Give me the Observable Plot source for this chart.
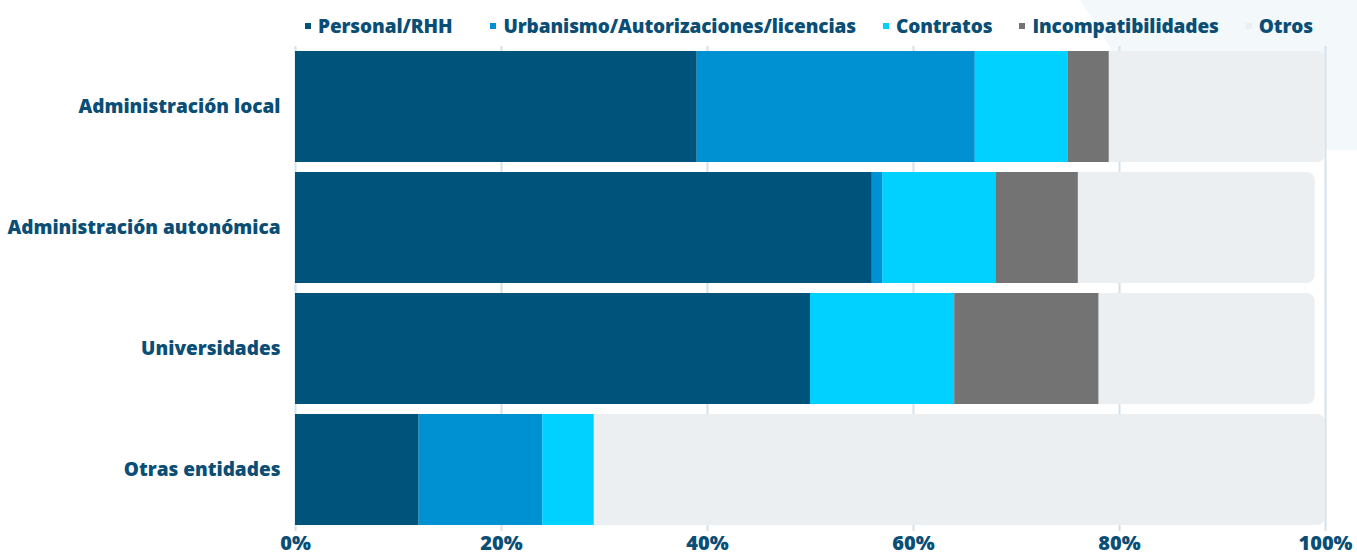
<!DOCTYPE html>
<html>
<head>
<meta charset="utf-8">
<script src="https://cdn.jsdelivr.net/npm/d3@7"></script>
<script src="https://cdn.jsdelivr.net/npm/@observablehq/plot@0.6"></script>
<style>
  html, body { margin:0; padding:0; background:#fff; }
  body { width:1357px; height:556px; position:relative; overflow:hidden; font-family: "Open Sans", Lato, sans-serif; }
  #deco { position:absolute; left:0; top:0; width:1357px; height:556px; background:#f3f8fb;
          clip-path: polygon(1080px 0, 1357px 0, 1357px 150px, 1176px 150px); z-index:0; }
  #legend { position:relative; z-index:1; height:42px; display:flex; align-items:center; padding-left:305px; padding-top:10px; box-sizing:border-box;
            font-weight:800; font-size:19px; color:#0a4e76; letter-spacing:-0.1px; }
  .item { display:flex; align-items:center; margin-right:27px; white-space:nowrap; }
  .item:first-child { margin-right:38px; }
  .sw { width:6px; height:6px; margin-right:7px; display:inline-block; }
  #chart { position:relative; z-index:1; }
  #chart svg { background:transparent !important; }
</style>
</head>
<body>
<div id="deco"></div>
<div id="legend"></div>
<div id="chart"></div>
<script>
const categories = ["Administración local", "Administración autonómica", "Universidades", "Otras entidades"];
const series = ["Personal/RHH", "Urbanismo/Autorizaciones/licencias", "Contratos", "Incompatibilidades", "Otros"];
const personal   = [39, 56, 50, 12];
const urbanismo  = [27, 1, 0, 12];
const contratos  = [9, 11, 14, 5];
const incompat   = [4, 8, 14, 0];
const otros      = [21, 23, 21, 71];
const colors = ["#00537a", "#0091d2", "#00d1ff", "#737373", "#ebeff2"];
const xTicks = [0, 20, 40, 60, 80, 100];

const valuesBySeries = [personal, urbanismo, contratos, incompat, otros];
const segments = [];
categories.forEach((c, i) => {
  series.slice(0, 4).forEach((s, j) => {
    segments.push({cat: c, series: s, value: valuesBySeries[j][i]});
  });
});
const totals = categories.map((c, i) => ({cat: c, total: valuesBySeries.reduce((a, v) => a + v[i], 0)}));

// legend
const legend = document.getElementById("legend");
series.forEach((s, j) => {
  const it = document.createElement("div");
  it.className = "item";
  it.innerHTML = `<span class="sw" style="background:${colors[j]}"></span><span>${s}</span>`;
  legend.appendChild(it);
});

const textColor = "#0a4e76";
const chart = Plot.plot({
  width: 1357,
  height: 514,
  marginLeft: 295,
  marginRight: 32,
  marginTop: 4,
  marginBottom: 25,
  style: {fontFamily: "'Open Sans', sans-serif", color: textColor, background: "transparent", overflow: "visible"},
  x: {domain: [0, 100]},
  y: {domain: categories, paddingInner: 0.08, paddingOuter: 0.04},
  color: {domain: series, range: colors},
  marks: [
    Plot.gridX(xTicks, {stroke: "#d3e2eb", strokeOpacity: 1, strokeWidth: 2}),
    Plot.barX(totals, {y: "cat", x: "total", fill: colors[4], rx: 8}),
    Plot.barX(segments, Plot.stackX({y: "cat", x: "value", fill: "series", order: series})),
    Plot.axisX(xTicks, {tickFormat: d => d + "%", tickSize: 0, tickPadding: 4, label: null, fontSize: 20, fontWeight: 800, fill: textColor}),
    Plot.axisY({tickSize: 0, tickPadding: 15, label: null, fontSize: 19, fontWeight: 800, fill: textColor})
  ]
});
document.getElementById("chart").appendChild(chart);
</script>
</body>
</html>
